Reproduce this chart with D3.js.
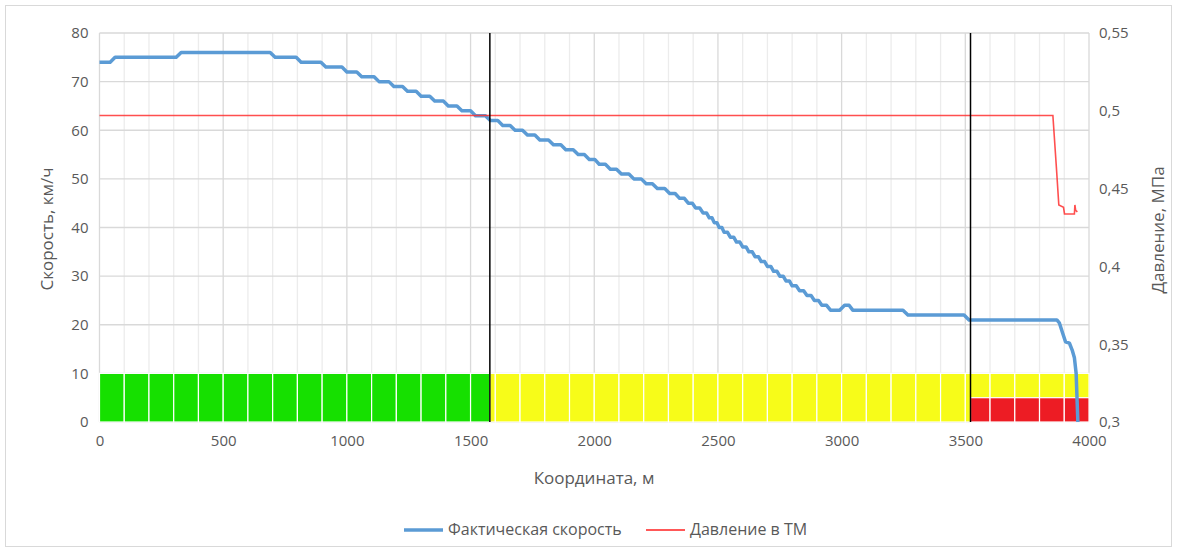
<!DOCTYPE html>
<html>
<head>
<meta charset="utf-8">
<script src="https://cdn.jsdelivr.net/npm/d3@7.9.0/dist/d3.min.js"></script>
<style>
  body { margin: 0; background: #fff; }
  svg text { font-family: 'Open Sans', 'Noto Sans', sans-serif; fill: #595959; }
</style>
</head>
<body>
<svg width="1178" height="551"></svg>
<script>
// speed: plateau start coordinate (m) and speed (km/h)
const speedStepAt = [0, 63, 330, 710, 815, 915, 1000, 1060, 1130, 1190,
  1245, 1300, 1355, 1410, 1465, 1520, 1580,
  1630, 1680, 1730, 1780, 1835, 1885, 1935, 1980,
  2020, 2065, 2110, 2160, 2210, 2255, 2305,
  2345, 2380, 2410, 2440, 2465, 2485, 2505,
  2525, 2550, 2575, 2600, 2625, 2650, 2675, 2700,
  2725, 2750, 2775, 2800, 2830, 2860, 2890, 2920, 2955,
  3012, 3045, 3268, 3515];
const speedStepVal = [74, 75, 76, 75, 74, 73, 72, 71, 70, 69,
  68, 67, 66, 65, 64, 63, 62,
  61, 60, 59, 58, 57, 56, 55, 54,
  53, 52, 51, 50, 49, 48, 47,
  46, 45, 44, 43, 42, 41, 40,
  39, 38, 37, 36, 35, 34, 33, 32,
  31, 30, 29, 28, 27, 26, 25, 24, 23,
  24, 23, 22, 21];
// final braking part of speed
const speedTailX = [3870, 3880, 3894, 3905, 3921, 3932, 3941, 3948, 3955];
const speedTailV = [21, 20.4, 18.2, 16.5, 16.2, 14.8, 13.2, 10, 0];

// brake pipe pressure, MPa
const pressX = [0, 3854, 3868, 3878, 3897, 3901, 3941, 3943, 3946, 3953];
const pressV = [0.497, 0.497, 0.464, 0.4395, 0.438, 0.4337, 0.4337, 0.4395, 0.436, 0.435];

// zones shown as columns
const zoneFrom = [0, 1578, 3521];
const zoneTo = [1578, 4000, 4000];
const zoneLevel = [10, 10, 5];
const zoneColors = ['#16e000', '#f7fc19', '#ed1c24'];

// vertical markers
const markers = [1578, 3521];

const xTicks = [0, 500, 1000, 1500, 2000, 2500, 3000, 3500, 4000];
const yTicks = [0, 10, 20, 30, 40, 50, 60, 70, 80];
const y2Ticks = [0.3, 0.35, 0.4, 0.45, 0.5, 0.55];

const svg = d3.select('svg');

svg.append('rect')
  .attr('x', 5.5).attr('y', 5.5).attr('width', 1166).attr('height', 541)
  .attr('fill', 'none').attr('stroke', '#d9d9d9');

const x = d3.scaleLinear().domain([0, 4000]).range([99.5, 1089]);
const y = d3.scaleLinear().domain([0, 80]).range([422, 33]);
const y2 = d3.scaleLinear().domain([0.3, 0.55]).range([422, 33]);

// grid
const grid = svg.append('g');
d3.range(0, 4001, 100).forEach((v) => {
  grid.append('line')
    .attr('x1', x(v)).attr('x2', x(v)).attr('y1', y(80)).attr('y2', y(0))
    .attr('stroke', v % 500 === 0 ? '#d9d9d9' : '#ececec')
    .attr('stroke-width', 1.3);
});
yTicks.forEach((v) => {
  grid.append('line')
    .attr('x1', x(0)).attr('x2', x(4000)).attr('y1', y(v)).attr('y2', y(v))
    .attr('stroke', '#d9d9d9').attr('stroke-width', 1.3);
});

// zone columns, split every 100 m
const bars = svg.append('g');
zoneFrom.forEach((from, i) => {
  let cells = d3.range(Math.floor(from / 100) * 100, zoneTo[i], 100);
  cells.forEach((c) => {
    let a = Math.max(from, c), b = Math.min(zoneTo[i], c + 100);
    bars.append('rect')
      .attr('x', x(a)).attr('width', x(b) - x(a))
      .attr('y', y(zoneLevel[i])).attr('height', y(0) - y(zoneLevel[i]))
      .attr('fill', zoneColors[i])
      .attr('stroke', '#fff').attr('stroke-width', 1.2);
  });
});

// speed line: plateaus with short ramps between them
let speedPts = [];
speedStepAt.forEach((s, i) => {
  let next = i < speedStepAt.length - 1 ? speedStepAt[i + 1] : speedTailX[0];
  let ramp = Math.min(20, (next - s) * 0.45);
  speedPts.push([s, speedStepVal[i]]);
  speedPts.push([next - ramp, speedStepVal[i]]);
});
speedTailX.forEach((s, i) => speedPts.push([s, speedTailV[i]]));

svg.append('path')
  .datum(speedPts)
  .attr('fill', 'none')
  .attr('stroke', '#5b9bd5')
  .attr('stroke-width', 3.5)
  .attr('stroke-linejoin', 'round')
  .attr('d', d3.line().x((d) => x(d[0])).y((d) => y(d[1])));

// pressure line
svg.append('path')
  .datum(pressX.map((s, i) => [s, pressV[i]]))
  .attr('fill', 'none')
  .attr('stroke', '#ff3030')
  .attr('stroke-width', 1.6)
  .attr('stroke-opacity', 0.85)
  .attr('d', d3.line().x((d) => x(d[0])).y((d) => y2(d[1])));

markers.forEach((m) => {
  svg.append('line')
    .attr('x1', x(m)).attr('x2', x(m)).attr('y1', y(80)).attr('y2', y(0))
    .attr('stroke', '#000').attr('stroke-width', 1.5);
});

// axes
const fmt = (v) => d3.format('~r')(+v.toFixed(2)).replace('.', ',');

svg.append('g')
  .attr('transform', `translate(0,${y(0) + 10})`)
  .call(d3.axisBottom(x).tickValues(xTicks).tickSize(0).tickFormat(d3.format('d')))
  .call((g) => g.select('.domain').remove())
  .selectAll('text').style('font-size', '15px');

svg.append('g')
  .attr('transform', `translate(${x(0) - 8},0)`)
  .call(d3.axisLeft(y).tickValues(yTicks).tickSize(0))
  .call((g) => g.select('.domain').remove())
  .selectAll('text').style('font-size', '15px');

svg.append('g')
  .attr('transform', `translate(${x(4000) + 7},0)`)
  .call(d3.axisRight(y2).tickValues(y2Ticks).tickSize(0).tickFormat(fmt))
  .call((g) => g.select('.domain').remove())
  .selectAll('text').style('font-size', '15px');

svg.selectAll('.tick text').attr('fill', '#595959').style('font-family', "'Open Sans', sans-serif");

// axis titles
svg.append('text')
  .attr('transform', 'translate(53,229) rotate(-90)')
  .attr('text-anchor', 'middle')
  .style('font-size', '17px')
  .text('Скорость, км/ч');

svg.append('text')
  .attr('transform', 'translate(1164,230) rotate(-90)')
  .attr('text-anchor', 'middle')
  .style('font-size', '17px')
  .text('Давление, МПа');

svg.append('text')
  .attr('x', 594).attr('y', 484)
  .attr('text-anchor', 'middle')
  .style('font-size', '17px')
  .text('Координата, м');

// legend
const legend = svg.append('g').attr('transform', 'translate(0,530)');
legend.append('line').attr('x1', 404).attr('x2', 443).attr('y1', 0).attr('y2', 0)
  .attr('stroke', '#5b9bd5').attr('stroke-width', 3.5);
legend.append('text').attr('x', 448).attr('y', 5).style('font-size', '16px')
  .text('Фактическая скорость');
legend.append('line').attr('x1', 646).attr('x2', 685).attr('y1', 0).attr('y2', 0)
  .attr('stroke', '#ff2020').attr('stroke-width', 1.6);
legend.append('text').attr('x', 690).attr('y', 5).style('font-size', '16px')
  .text('Давление в ТМ');
</script>
</body>
</html>
